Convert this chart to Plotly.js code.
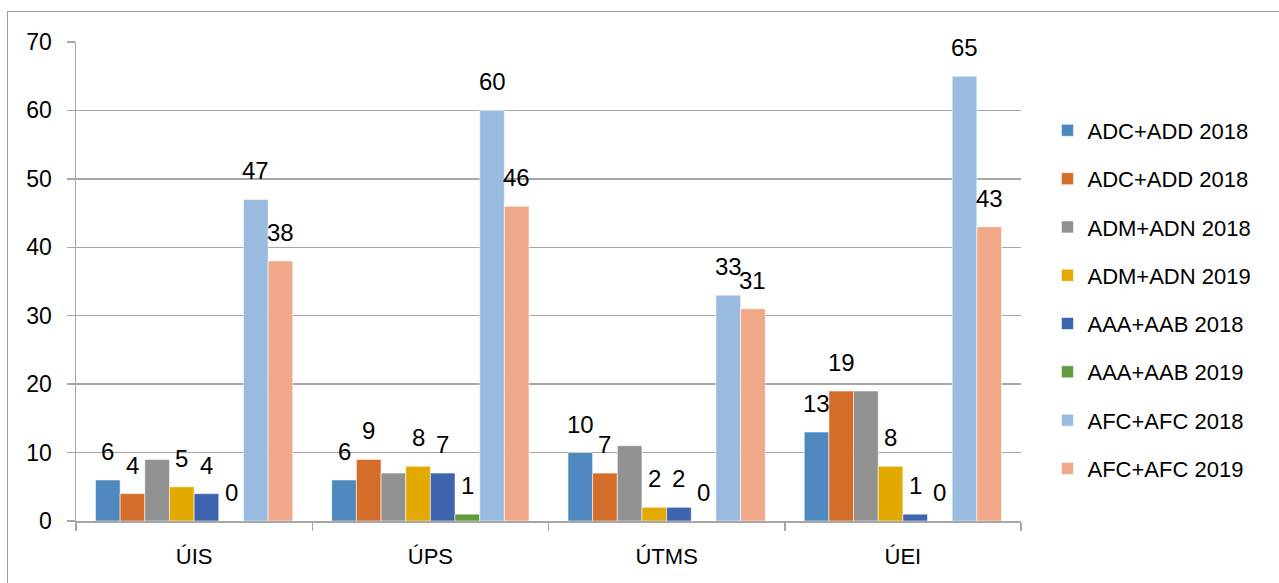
<!DOCTYPE html>
<html>
<head>
<meta charset="utf-8">
<script src="https://cdn.plot.ly/plotly-3.0.1.min.js"></script>
<style>
  html, body { margin: 0; padding: 0; background: #fff; overflow: hidden; }
  #frame { position: absolute; left: 0; top: 0; width: 1279px; height: 583px; }
  #border { position: absolute; left: 7px; top: 11px; width: 1400px; height: 700px;
            border-left: 1.5px solid #9c9c9c; border-top: 1.5px solid #9c9c9c; pointer-events: none; }
  #chart { position: absolute; left: 0; top: 0; width: 1279px; height: 583px; }
</style>
</head>
<body>
<div id="frame">
  <div id="chart"></div>
  <div id="border"></div>
</div>
<script>
// ---- data ----
const categories = ['ÚIS', 'ÚPS', 'ÚTMS', 'ÚEI'];
const seriesNames = ['ADC+ADD 2018', 'ADC+ADD 2018', 'ADM+ADN 2018', 'ADM+ADN 2019',
                     'AAA+AAB 2018', 'AAA+AAB 2019', 'AFC+AFC 2018', 'AFC+AFC 2019'];
const adcAdd2018a = [6, 6, 10, 13];
const adcAdd2018b = [4, 9, 7, 19];
const admAdn2018  = [9, 7, 11, 19];
const admAdn2019  = [5, 8, 2, 8];
const aaaAab2018  = [4, 7, 2, 1];
const aaaAab2019  = [0, 1, 0, 0];
const afcAfc2018  = [47, 60, 33, 65];
const afcAfc2019  = [38, 46, 31, 43];
const seriesValues = [adcAdd2018a, adcAdd2018b, admAdn2018, admAdn2019,
                      aaaAab2018, aaaAab2019, afcAfc2018, afcAfc2019];
const showLabels = [true, true, false, true, true, true, true, true];
const yTicks = [0, 10, 20, 30, 40, 50, 60, 70];

// ---- styles ----
const colors = ['#4F88BE', '#D56D2A', '#919191', '#E2AA00', '#3D64AD', '#609B3D', '#99BBE0', '#F0A889'];
const FONT = 'Liberation Sans, Arial, sans-serif';
const W = 1279, H = 583;
const margin = {l: 76, r: 258, t: 42, b: 62};
const bargap = 0.165;

const traces = seriesValues.map((vals, i) => ({
  type: 'bar',
  name: seriesNames[i],
  x: categories,
  y: vals,
  legendgroup: 'g' + i,
  marker: {color: colors[i], line: {color: 'rgba(255,255,255,0.7)', width: 0.8}},
  hoverinfo: 'skip'
}));

// data labels, positioned over each bar slot
const plotW = W - margin.l - margin.r;
const slot = plotW / categories.length * (1 - bargap) / seriesValues.length;
const annotations = [];
seriesValues.forEach((vals, i) => {
  if (!showLabels[i]) return;
  vals.forEach((v, j) => {
    annotations.push({
      x: categories[j], y: v, xref: 'x', yref: 'y',
      text: String(v), showarrow: false,
      xanchor: 'center', yanchor: 'bottom',
      xshift: (i - (seriesValues.length - 1) / 2) * slot,
      yshift: 13,
      font: {family: FONT, size: 24, color: '#000'}
    });
  });
});

const layout = {
  width: W, height: H,
  margin: margin,
  paper_bgcolor: 'rgba(0,0,0,0)',
  plot_bgcolor: '#fff',
  barmode: 'group',
  bargap: bargap,
  bargroupgap: 0,
  showlegend: true,
  legend: {
    x: 1.028, xanchor: 'left', y: 0.859, yanchor: 'top',
    font: {family: FONT, size: 22, color: '#000'},
    tracegroupgap: 16.7,
    traceorder: 'grouped',
    itemclick: false, itemdoubleclick: false
  },
  font: {family: FONT, size: 22, color: '#000'},
  xaxis: {
    type: 'category',
    showgrid: false,
    showline: true, linecolor: '#a6a6a6', linewidth: 1.5,
    ticks: 'outside', tickson: 'boundaries', ticklen: 8, tickcolor: '#a6a6a6', tickwidth: 1.5,
    ticklabelstandoff: 15,
    tickfont: {family: FONT, size: 22, color: '#000'},
    zeroline: false, fixedrange: true
  },
  yaxis: {
    range: [0, 70],
    tickvals: yTicks,
    ticktext: yTicks.map(String),
    showgrid: true, gridcolor: '#a6a6a6', gridwidth: 1.5,
    showline: true, linecolor: '#a6a6a6', linewidth: 1.5,
    ticks: 'outside', ticklen: 8, tickcolor: '#a6a6a6', tickwidth: 1.5,
    ticklabelstandoff: 10,
    tickfont: {family: FONT, size: 23, color: '#000'},
    zeroline: false, fixedrange: true
  },
  annotations: annotations
};

Plotly.newPlot('chart', traces, layout, {staticPlot: true, displayModeBar: false});
</script>
</body>
</html>
